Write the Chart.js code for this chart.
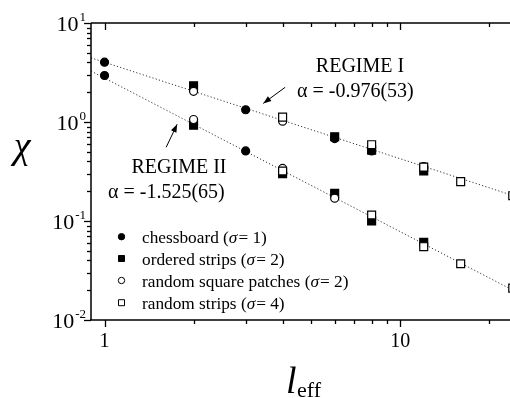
<!DOCTYPE html>
<html><head><meta charset="utf-8">
<script src="https://cdn.jsdelivr.net/npm/chart.js@4"></script>
<style>
html,body{margin:0;padding:0;background:#fff;overflow:hidden;width:510px;height:398px}
#wrap{position:absolute;left:0;top:0;width:530px;height:398px}
</style>
</head><body><div id="wrap"><canvas id="c" width="530" height="398"></canvas></div>
<script>
// ---- data ----
const chessboardX = [1, 1, 2, 3, 3, 6, 8];
const chessboardY = [4.02, 2.95, 0.95, 1.33, 0.51, 0.68, 0.51];
const orderedX = [2, 2, 4, 6, 6, 8, 8, 12, 12];
const orderedY = [2.32, 0.93, 0.30, 0.71, 0.19, 0.52, 0.10, 0.32, 0.061];
const patchesX = [2, 2, 4, 4, 6, 12];
const patchesY = [2.04, 1.06, 1.02, 0.34, 0.17, 0.355];
const randStripsX = [4, 4, 8, 8, 12, 12, 16, 16, 24, 24];
const randStripsY = [1.12, 0.32, 0.59, 0.115, 0.35, 0.055, 0.25, 0.037, 0.18, 0.021];
const fitIX = [0.9, 25];
const fitIY = [4.45, 0.174];
const fitIIX = [0.9, 25];
const fitIIY = [3.27, 0.0188];
const xMajorTicks = [1, 10];
const xMinorTicks = [2, 3, 4, 5, 6, 7, 8, 9, 20];
const yMajorTicks = [0.01, 0.1, 1, 10];
const yExponents = ['-2', '-1', '0', '1'];
const legendLabels = [
  ['chessboard (', 'σ', '= 1)'],
  ['ordered strips (', 'σ', '= 2)'],
  ['random square patches (', 'σ', '= 2)'],
  ['random strips (', 'σ', '= 4)']
];

const pts = (xs, ys) => xs.map((x, i) => ({x, y: ys[i]}));
const SERIF = '"Liberation Serif", "DejaVu Serif", serif';

const overlay = {
  id: 'overlay',
  afterDraw(chart) {
    const ctx = chart.ctx;
    const a = chart.chartArea;
    const xs = chart.scales.x, ys = chart.scales.y;
    ctx.save();
    ctx.strokeStyle = '#000';
    ctx.fillStyle = '#000';
    ctx.lineWidth = 1.5;
    // frame
    ctx.beginPath();
    ctx.moveTo(a.left, a.top); ctx.lineTo(a.right, a.top);
    ctx.moveTo(a.left, a.top); ctx.lineTo(a.left, a.bottom);
    ctx.moveTo(a.left - 1, a.bottom); ctx.lineTo(a.right, a.bottom);
    ctx.moveTo(a.right, a.top); ctx.lineTo(a.right, a.bottom);
    ctx.stroke();
    ctx.lineWidth = 1.3;
    // x ticks
    const xt = (v, len) => {
      const p = Math.round(xs.getPixelForValue(v)) + 0.5;
      ctx.beginPath();
      ctx.moveTo(p, a.bottom); ctx.lineTo(p, a.bottom + len);
      ctx.moveTo(p, a.top); ctx.lineTo(p, a.top + len);
      ctx.stroke();
    };
    xMajorTicks.forEach(v => xt(v, 7));
    xMinorTicks.forEach(v => xt(v, 4));
    // y ticks
    for (let d = 0; d < yMajorTicks.length; d++) {
      const base = yMajorTicks[d];
      const p = Math.round(ys.getPixelForValue(base)) + 0.5;
      ctx.beginPath(); ctx.moveTo(a.left, p); ctx.lineTo(a.left - 7, p); ctx.stroke();
      if (d < yMajorTicks.length - 1) {
        for (let m = 2; m <= 9; m++) {
          const q = Math.round(ys.getPixelForValue(base * m)) + 0.5;
          ctx.beginPath(); ctx.moveTo(a.left, q); ctx.lineTo(a.left - 4, q); ctx.stroke();
        }
      }
    }
    // y labels (10 with superscript exponent, right-aligned as a whole)
    ctx.textBaseline = 'alphabetic';
    ctx.textAlign = 'left';
    yMajorTicks.forEach((v, i) => {
      const p = ys.getPixelForValue(v);
      ctx.font = '13px ' + SERIF;
      const we = ctx.measureText(yExponents[i]).width;
      ctx.font = '22px ' + SERIF;
      const wb = ctx.measureText('10').width;
      const right = a.left - 5;
      const x0 = right - we - wb - 1;
      ctx.fillText('10', x0, p + 8);
      ctx.font = '13px ' + SERIF;
      ctx.fillText(yExponents[i], x0 + wb + 1, p - 2);
    });
    // x labels
    ctx.font = '20px ' + SERIF;
    ctx.textAlign = 'center';
    xMajorTicks.forEach(v => {
      ctx.fillText(String(v), xs.getPixelForValue(v), a.bottom + 27);
    });
    // axis titles
    ctx.font = 'italic 38px ' + SERIF;
    ctx.textAlign = 'center';
    ctx.fillText('χ', 22, 158);
    ctx.textAlign = 'left';
    ctx.fillText('l', 286, 393);
    ctx.font = '22px ' + SERIF;
    ctx.fillText('eff', 297, 397);
    // annotations
    ctx.font = '20px ' + SERIF;
    ctx.textAlign = 'center';
    ctx.fillText('REGIME I', 360, 72);
    ctx.textAlign = 'left';
    ctx.fillText('α = -0.976(53)', 297, 97);
    ctx.textAlign = 'center';
    ctx.fillText('REGIME II', 179, 173);
    ctx.textAlign = 'left';
    ctx.fillText('α = -1.525(65)', 108, 198);
    // arrows (data coordinates)
    const arrow = (x1, y1, x2, y2) => {
      const X1 = xs.getPixelForValue(x1), Y1 = ys.getPixelForValue(y1);
      const X2 = xs.getPixelForValue(x2), Y2 = ys.getPixelForValue(y2);
      ctx.lineWidth = 1;
      ctx.beginPath(); ctx.moveTo(X1, Y1); ctx.lineTo(X2, Y2); ctx.stroke();
      const ang = Math.atan2(Y2 - Y1, X2 - X1);
      const L = 8, W = 3;
      ctx.beginPath();
      ctx.moveTo(X2, Y2);
      ctx.lineTo(X2 - L * Math.cos(ang) + W * Math.sin(ang), Y2 - L * Math.sin(ang) - W * Math.cos(ang));
      ctx.lineTo(X2 - L * Math.cos(ang) - W * Math.sin(ang), Y2 - L * Math.sin(ang) + W * Math.cos(ang));
      ctx.closePath(); ctx.fill();
    };
    arrow(4.08, 2.24, 3.44, 1.54);
    arrow(1.616, 0.556, 1.76, 0.948);
    // legend
    const rows = [236.7, 258.5, 280.5, 302.7];
    const styles = chart.data.datasets.filter(d => d.legend);
    styles.forEach((d, i) => {
      const y = rows[i], x = 121.5;
      ctx.lineWidth = 1;
      ctx.fillStyle = d.backgroundColor;
      ctx.strokeStyle = '#000';
      ctx.beginPath();
      if (d.pointStyle === 'circle') ctx.arc(x, y, 3.2, 0, Math.PI * 2);
      else ctx.rect(x - 3, y - 3, 6, 6);
      ctx.fill(); ctx.stroke();
      ctx.fillStyle = '#000';
      let tx = 142;
      const parts = legendLabels[i];
      ctx.textAlign = 'left';
      parts.forEach((t, k) => {
        ctx.font = (k === 1 ? 'italic ' : '') + '17.3px ' + SERIF;
        ctx.fillText(t, tx, y + 6);
        tx += ctx.measureText(t).width + (k === 1 ? 1 : 0);
      });
    });
    ctx.restore();
  }
};

const mk = (label, xs, ys, style, fill, order, r) => ({
  type: 'scatter', label, data: pts(xs, ys), legend: true,
  pointStyle: style, backgroundColor: fill, borderColor: '#000',
  pointBackgroundColor: fill, pointBorderColor: '#000', pointBorderWidth: 1.2,
  pointRadius: r, pointHoverRadius: r, order, showLine: false
});
const fit = (label, xs, ys) => ({
  type: 'line', label, data: pts(xs, ys), borderColor: '#333', borderWidth: 1,
  borderDash: [1.2, 2.2], pointRadius: 0, fill: false, order: 10, tension: 0
});

new Chart(document.getElementById('c'), {
  type: 'scatter',
  data: {
    datasets: [
      mk('chessboard', chessboardX, chessboardY, 'circle', '#000', 5, 4),
      mk('ordered strips', orderedX, orderedY, 'rect', '#000', 4, 5.6),
      mk('random square patches', patchesX, patchesY, 'circle', '#fff', 3, 4),
      mk('random strips', randStripsX, randStripsY, 'rect', '#fff', 2, 5.6),
      fit('Regime I', fitIX, fitIY),
      fit('Regime II', fitIIX, fitIIY)
    ]
  },
  options: {
    responsive: false, animation: false, devicePixelRatio: 1,
    layout: { padding: { left: 91, top: 23, right: 12, bottom: 78 } },
    scales: {
      x: { type: 'logarithmic', min: 0.9, max: 25, display: false },
      y: { type: 'logarithmic', min: 0.01, max: 10, display: false }
    },
    plugins: { legend: { display: false }, tooltip: { enabled: false } }
  },
  plugins: [overlay]
});
</script></body></html>
